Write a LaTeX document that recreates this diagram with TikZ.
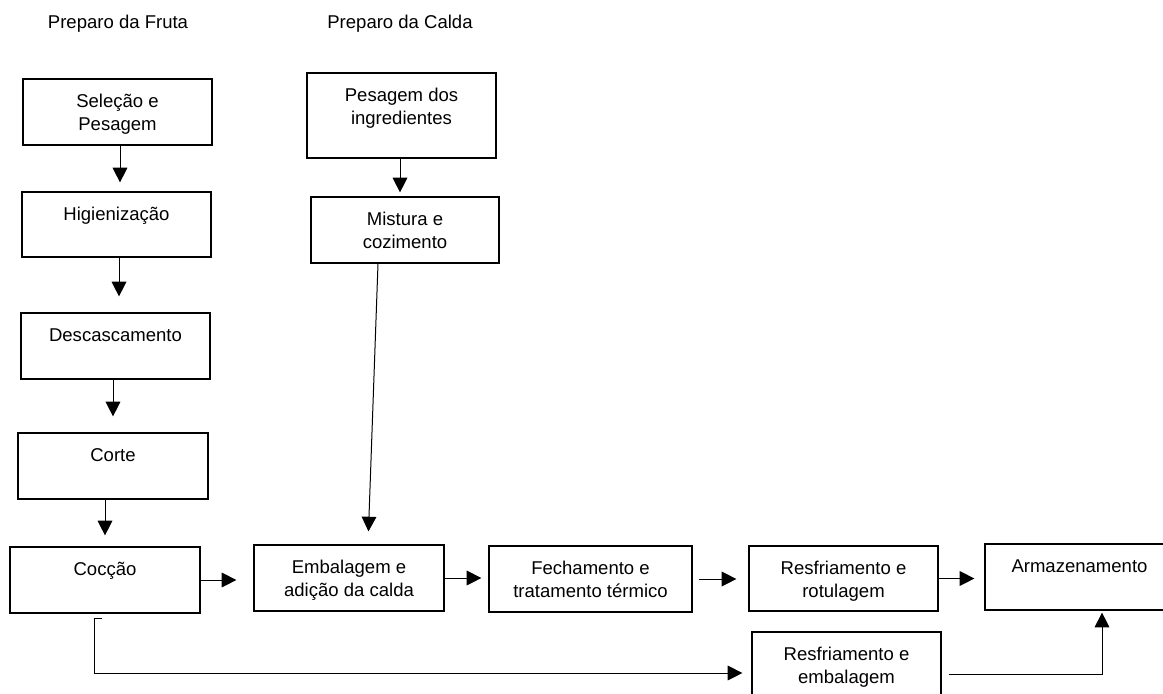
\documentclass[tikz,border=0pt]{standalone}
\usepackage{fontspec}
\setmainfont{Liberation Sans}
\usetikzlibrary{arrows.meta}
\newcommand{\px}{0.75pt}

\begin{document}
\begin{tikzpicture}[x=0.75pt, y=-0.75pt,
    every node/.style={font=\fontsize{13.9pt}{17.25pt}\selectfont},
    etapa/.style={draw, line width=0.9pt, inner sep=0pt},
    rotulo/.style={anchor=north, align=center, inner sep=0pt},
    seta/.style={-{Triangle[length=11pt,width=11pt]}, line width=0.75pt}]
  \clip (0,0) rectangle (1163,693);

  % Titulos das duas colunas
  \node[anchor=base] (tfruta) at (118,28) {Preparo da Fruta};
  \node[anchor=base] (tcalda) at (400,28) {Preparo da Calda};

  % Caixas das etapas (canto superior esquerdo, largura, altura)
  \foreach \nome/\x/\y/\w/\h/\texto in {
      sel/23/79/189/66/{Seleção e\\Pesagem},
      hig/22/192/189/65/{Higienização},
      desc/21/313/189/66/{Descascamento},
      corte/18/433/190/66/{Corte},
      coc/10/547/190/66/{Cocção},
      pes/307/73/189/85/{Pesagem dos\\ingredientes},
      mist/311/197/188/66/{Mistura e\\cozimento},
      emb/254/545/190/66/{Embalagem e\\adição da calda},
      fech/489/546/203/66/{Fechamento e\\tratamento térmico},
      resf/749/546/189/65/{Resfriamento e\\rotulagem},
      arm/985/544/189/66/{Armazenamento},
      resfe/752/632/189/66/{Resfriamento e\\embalagem}}
  {
    \node[etapa, minimum width=\w*\px, minimum height=\h*\px] (\nome) at (\x+\w/2,\y+\h/2) {};
    \node[rotulo] (\nome-txt) at (\x+\w/2,\y+15) {\texto};
  }

  % Preparo da fruta
  \draw[seta, shorten >=9*\px] ([xshift=2.5*\px]sel.south) -- ([xshift=2.5*\px]sel.south |- hig.north);
  \draw[seta, shorten >=16*\px] ([xshift=2.5*\px]hig.south) -- ([xshift=2.5*\px]hig.south |- desc.north);
  \draw[seta, shorten >=16*\px] ([xshift=-2.5*\px]desc.south) -- ([xshift=-2.5*\px]desc.south |- corte.north);
  \draw[seta, shorten >=11*\px] ([xshift=-8*\px]corte.south) -- ([xshift=-8*\px]corte.south |- coc.north);

  % Preparo da calda
  \draw[seta, shorten >=4*\px] ([xshift=-1.5*\px]pes.south) -- ([xshift=-1.5*\px]pes.south |- mist.north);
  \draw[seta, shorten >=13*\px] ([xshift=-27*\px]mist.south) -- ([xshift=19*\px]emb.north);

  % Linha principal
  \draw[seta, shorten >=17*\px] (coc.east) -- (coc.east -| emb.west);
  \draw[seta, shorten >=7*\px] (emb.east) -- (emb.east -| fech.west);
  \draw[seta, shorten <=6*\px, shorten >=12*\px] (fech.east) -- (fech.east -| resf.west);
  \draw[seta, shorten >=10*\px] (resf.east) -- (resf.east -| arm.west);

  % Desvio por baixo
  \coordinate (gancho) at ([xshift=-3*\px, yshift=-5*\px]coc.south);
  \draw[seta, shorten >=9*\px] (gancho) -- ++(-8,0) |- ([yshift=-8*\px]resfe.west);
  \draw[seta, shorten >=2*\px] ([xshift=7*\px, yshift=-9*\px]resfe.east) -| ([xshift=22.5*\px]arm.south);
\end{tikzpicture}
\end{document}
